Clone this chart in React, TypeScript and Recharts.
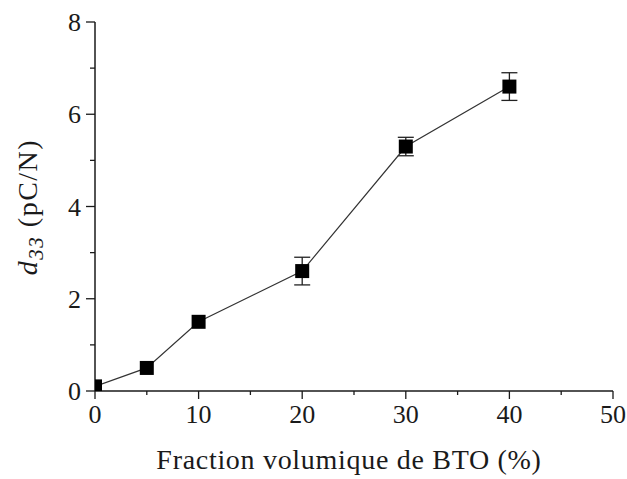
import { ComposedChart, Line, ErrorBar, XAxis, YAxis } from 'recharts';

const fractions = [0, 5, 10, 20, 30, 40];
const d33Values = [0.1, 0.5, 1.5, 2.6, 5.3, 6.6];
const d33Errors = [0, 0, 0, 0.3, 0.2, 0.3];
const xTicks = [0, 5, 10, 15, 20, 25, 30, 35, 40, 45, 50];
const yTicks = [0, 1, 2, 3, 4, 5, 6, 7, 8];

const chartData = fractions.map((f, i) => ({ fraction: f, d33: d33Values[i], err: d33Errors[i] }));

const FONT = '"Liberation Serif", "DejaVu Serif", serif';
const INK = '#1a1a1a';

// plot box follows from margins + axis sizes below
const CHART_H = 479;
const Y_AXIS_W = 95;
const X_AXIS_H = 88;
const PLOT_LEFT = Y_AXIS_W;
const PLOT_BOTTOM = CHART_H - X_AXIS_H;

function XTick(props: any) {
  const { x, y, payload } = props;
  const major = payload.value % 10 === 0;
  return (
    <g>
      <line x1={x} x2={x} y1={y} y2={y + (major ? 8 : 4)} stroke={INK} strokeWidth={1.3} />
      {major && (
        <text x={x} y={y + 32} textAnchor="middle" fontFamily={FONT} fontSize={26} fill={INK}>
          {payload.value}
        </text>
      )}
    </g>
  );
}

function YTick(props: any) {
  const { x, y, payload } = props;
  const major = payload.value % 2 === 0;
  return (
    <g>
      <line x1={x - (major ? 9 : 5)} x2={x} y1={y} y2={y} stroke={INK} strokeWidth={1.3} />
      {major && (
        <text x={x - 14} y={y + 9} textAnchor="end" fontFamily={FONT} fontSize={26} fill={INK}>
          {payload.value}
        </text>
      )}
    </g>
  );
}

// square marker, cut at the axes like the original
function SquareDot(props: any) {
  const { cx, cy } = props;
  if (cx == null || cy == null) return null;
  const x0 = Math.max(cx - 7, PLOT_LEFT);
  const y1 = Math.min(cy + 7, PLOT_BOTTOM);
  return <rect x={x0} y={cy - 7} width={cx + 7 - x0} height={y1 - (cy - 7)} fill="#000" />;
}

export default function App() {
  return (
    <div style={{ position: 'absolute', left: 0, top: 0, background: '#fff' }}>
      <ComposedChart width={627} height={CHART_H} data={chartData} margin={{ top: 22, right: 14, left: 0, bottom: 0 }}>
        <XAxis
          dataKey="fraction"
          type="number"
          domain={[0, 50]}
          ticks={xTicks}
          interval={0}
          allowDataOverflow
          height={X_AXIS_H}
          tickSize={0}
          tickMargin={0}
          tickLine={false}
          tick={XTick}
          stroke={INK}
          strokeWidth={1.5}
          label={{
            content: () => (
              <text x={349} y={469} textAnchor="middle" fontFamily={FONT} fontSize={28} letterSpacing={0.7} fill={INK}>
                Fraction volumique de BTO (%)
              </text>
            ),
          }}
        />
        <YAxis
          type="number"
          domain={[0, 8]}
          ticks={yTicks}
          interval={0}
          allowDataOverflow
          width={Y_AXIS_W}
          tickSize={0}
          tickMargin={0}
          tickLine={false}
          tick={YTick}
          stroke={INK}
          strokeWidth={1.5}
          label={{
            content: () => (
              <text
                x={0}
                y={0}
                transform="translate(37 207) rotate(-90)"
                textAnchor="middle"
                fontFamily={FONT}
                fontSize={28}
                letterSpacing={1.5}
                fill={INK}
              >
                <tspan fontStyle="italic">d</tspan>
                <tspan fontStyle="italic" fontSize={21} dy={6}>33</tspan>
                <tspan dy={-6}> (pC/N)</tspan>
              </text>
            ),
          }}
        />
        <Line
          dataKey="d33"
          stroke="#333"
          strokeWidth={1.2}
          dot={<SquareDot />}
          activeDot={false}
          isAnimationActive={false}
        >
          <ErrorBar dataKey="err" width={8} stroke="#222" strokeWidth={1.3} direction="y" />
        </Line>
      </ComposedChart>
    </div>
  );
}
